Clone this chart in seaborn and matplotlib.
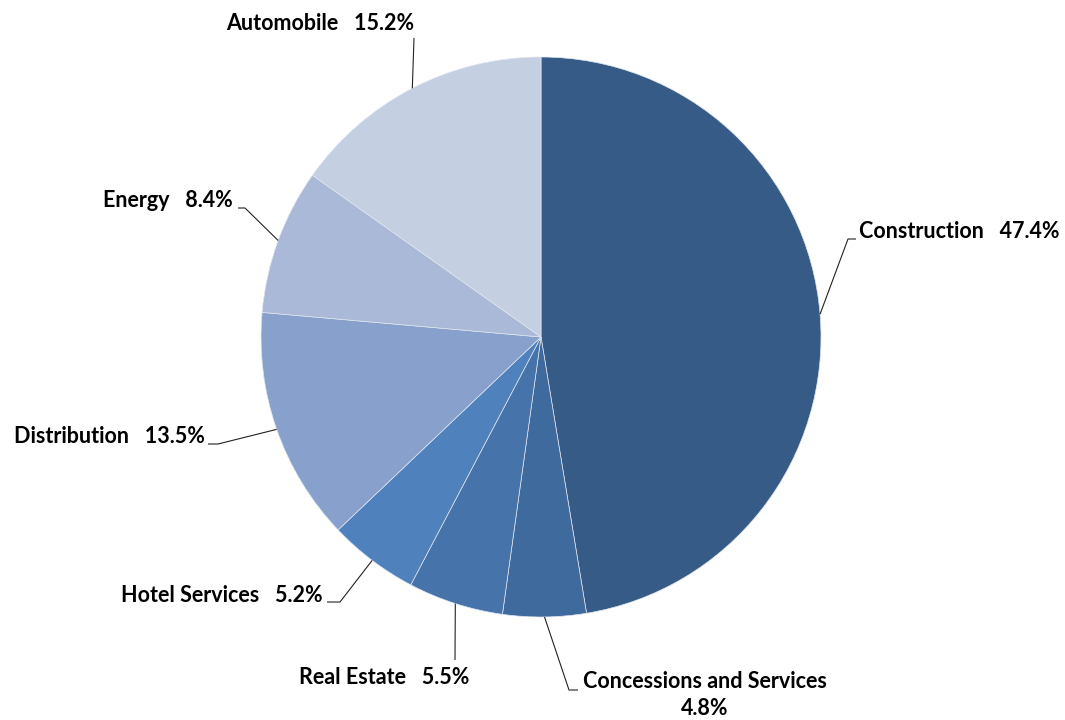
import numpy as np
import seaborn as sns
import matplotlib
matplotlib.use("Agg")
import matplotlib.pyplot as plt

# Data: business segments and their share (%)
segments = ["Construction", "Concessions and Services", "Real Estate",
            "Hotel Services", "Distribution", "Energy", "Automobile"]
shares = [47.4, 4.8, 5.5, 5.2, 13.5, 8.4, 15.2]
colors = ["#375B87", "#3F6A9E", "#4573AA", "#4F81BD",
          "#87A1CC", "#AAB9D7", "#C4CFE2"]

sns.set_style("white")
plt.rcParams["font.family"] = ["Lato", "DejaVu Sans"]

W, H = 1065, 720
CX, CY, R = 541, 337, 280  # pie centre / radius in pixels


def px(x, y):
    # pixel position -> data coords (1 unit = pie radius)
    return (x - CX) / R, (CY - y) / R


fig = plt.figure(figsize=(W / 100, H / 100), dpi=100)
ax = fig.add_axes([0, 0, 1, 1])

wedges, _ = ax.pie(shares, colors=colors, startangle=90, counterclock=False,
                   radius=1, center=(0, 0), frame=True,
                   wedgeprops=dict(edgecolor="#dfe5ef", linewidth=0.5))
ax.set_xlim(-CX / R, (W - CX) / R)
ax.set_ylim((CY - H) / R, CY / R)
ax.set_aspect("equal")
ax.axis("off")

# label layout (pixels): text position, alignment, leader line bend points
layout = [
    ((859, 232), "left", [(848, 239), (856, 239)]),
    ((705, 695), "center", [(569, 690), (578, 690)]),
    ((384, 677), "center", [(455, 660)]),
    ((323, 596), "right", [(340, 602), (327, 602)]),
    ((205, 437), "right", [(218, 444), (208, 444)]),
    ((233, 201), "right", [(245, 208), (238, 208)]),
    ((320, 24), "center", [(414, 38)]),
]

for w, name, val, (tpos, ha, bends) in zip(wedges, segments, shares, layout):
    mid = np.deg2rad((w.theta1 + w.theta2) / 2)
    pts = [(np.cos(mid), np.sin(mid))] + [px(*b) for b in bends]
    xs, ys = zip(*pts)
    ax.plot(xs, ys, color="#222222", lw=0.8, solid_capstyle="butt")
    if name.startswith("Concessions"):
        label = f"{name}\n{val:.1f}%"
    else:
        label = f"{name}   {val:.1f}%"
    tx, ty = px(*tpos)
    ax.text(tx, ty, label, ha=ha, va="center", multialignment="center",
            fontsize=15.5, fontweight="bold", color="black", linespacing=1.3)

fig.savefig("out.png", dpi=100)
